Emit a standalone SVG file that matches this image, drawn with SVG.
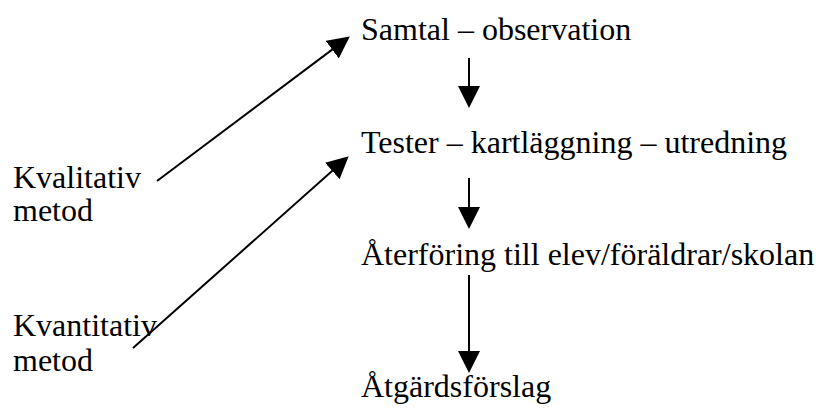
<svg xmlns="http://www.w3.org/2000/svg" width="816" height="412" viewBox="0 0 816 412">
<style>
.c{stroke:#000;stroke-width:2;fill:none}
</style>
<defs>
<marker id="ah" markerUnits="userSpaceOnUse" markerWidth="22" markerHeight="22" refX="17" refY="11" orient="auto" viewBox="0 0 22 22">
<path d="M0,0 L22,11 L0,22 z" fill="#000"/>
</marker>
</defs>
<rect width="816" height="412" fill="#fff"/>
<g font-family="Liberation Serif" font-size="32" fill="#000">
<g id="n-samtal"><text x="361" y="40">Samtal – observation</text></g>
<g id="n-tester"><text x="361" y="153">Tester – kartläggning – utredning</text></g>
<g id="n-aterforing"><text x="361" y="265">Återföring till elev/föräldrar/skolan</text></g>
<g id="n-atgard"><text x="361" y="397">Åtgärdsförslag</text></g>
<g id="n-kvalitativ"><text x="13" y="188">Kvalitativ</text><text x="13" y="221">metod</text></g>
<g id="n-kvantitativ"><text x="13" y="336">Kvantitativ</text><text x="13" y="371">metod</text></g>
</g>
<g id="connectors">
<line class="c" x1="469" y1="58" x2="469" y2="103" marker-end="url(#ah)"/>
<line class="c" x1="469" y1="178" x2="469" y2="224" marker-end="url(#ah)"/>
<line class="c" x1="469" y1="275" x2="469" y2="368" marker-end="url(#ah)"/>
<line class="c" x1="157" y1="181" x2="345.8" y2="39.4" marker-end="url(#ah)"/>
<line class="c" x1="133" y1="348" x2="345" y2="159.6" marker-end="url(#ah)"/>
</g>
</svg>
